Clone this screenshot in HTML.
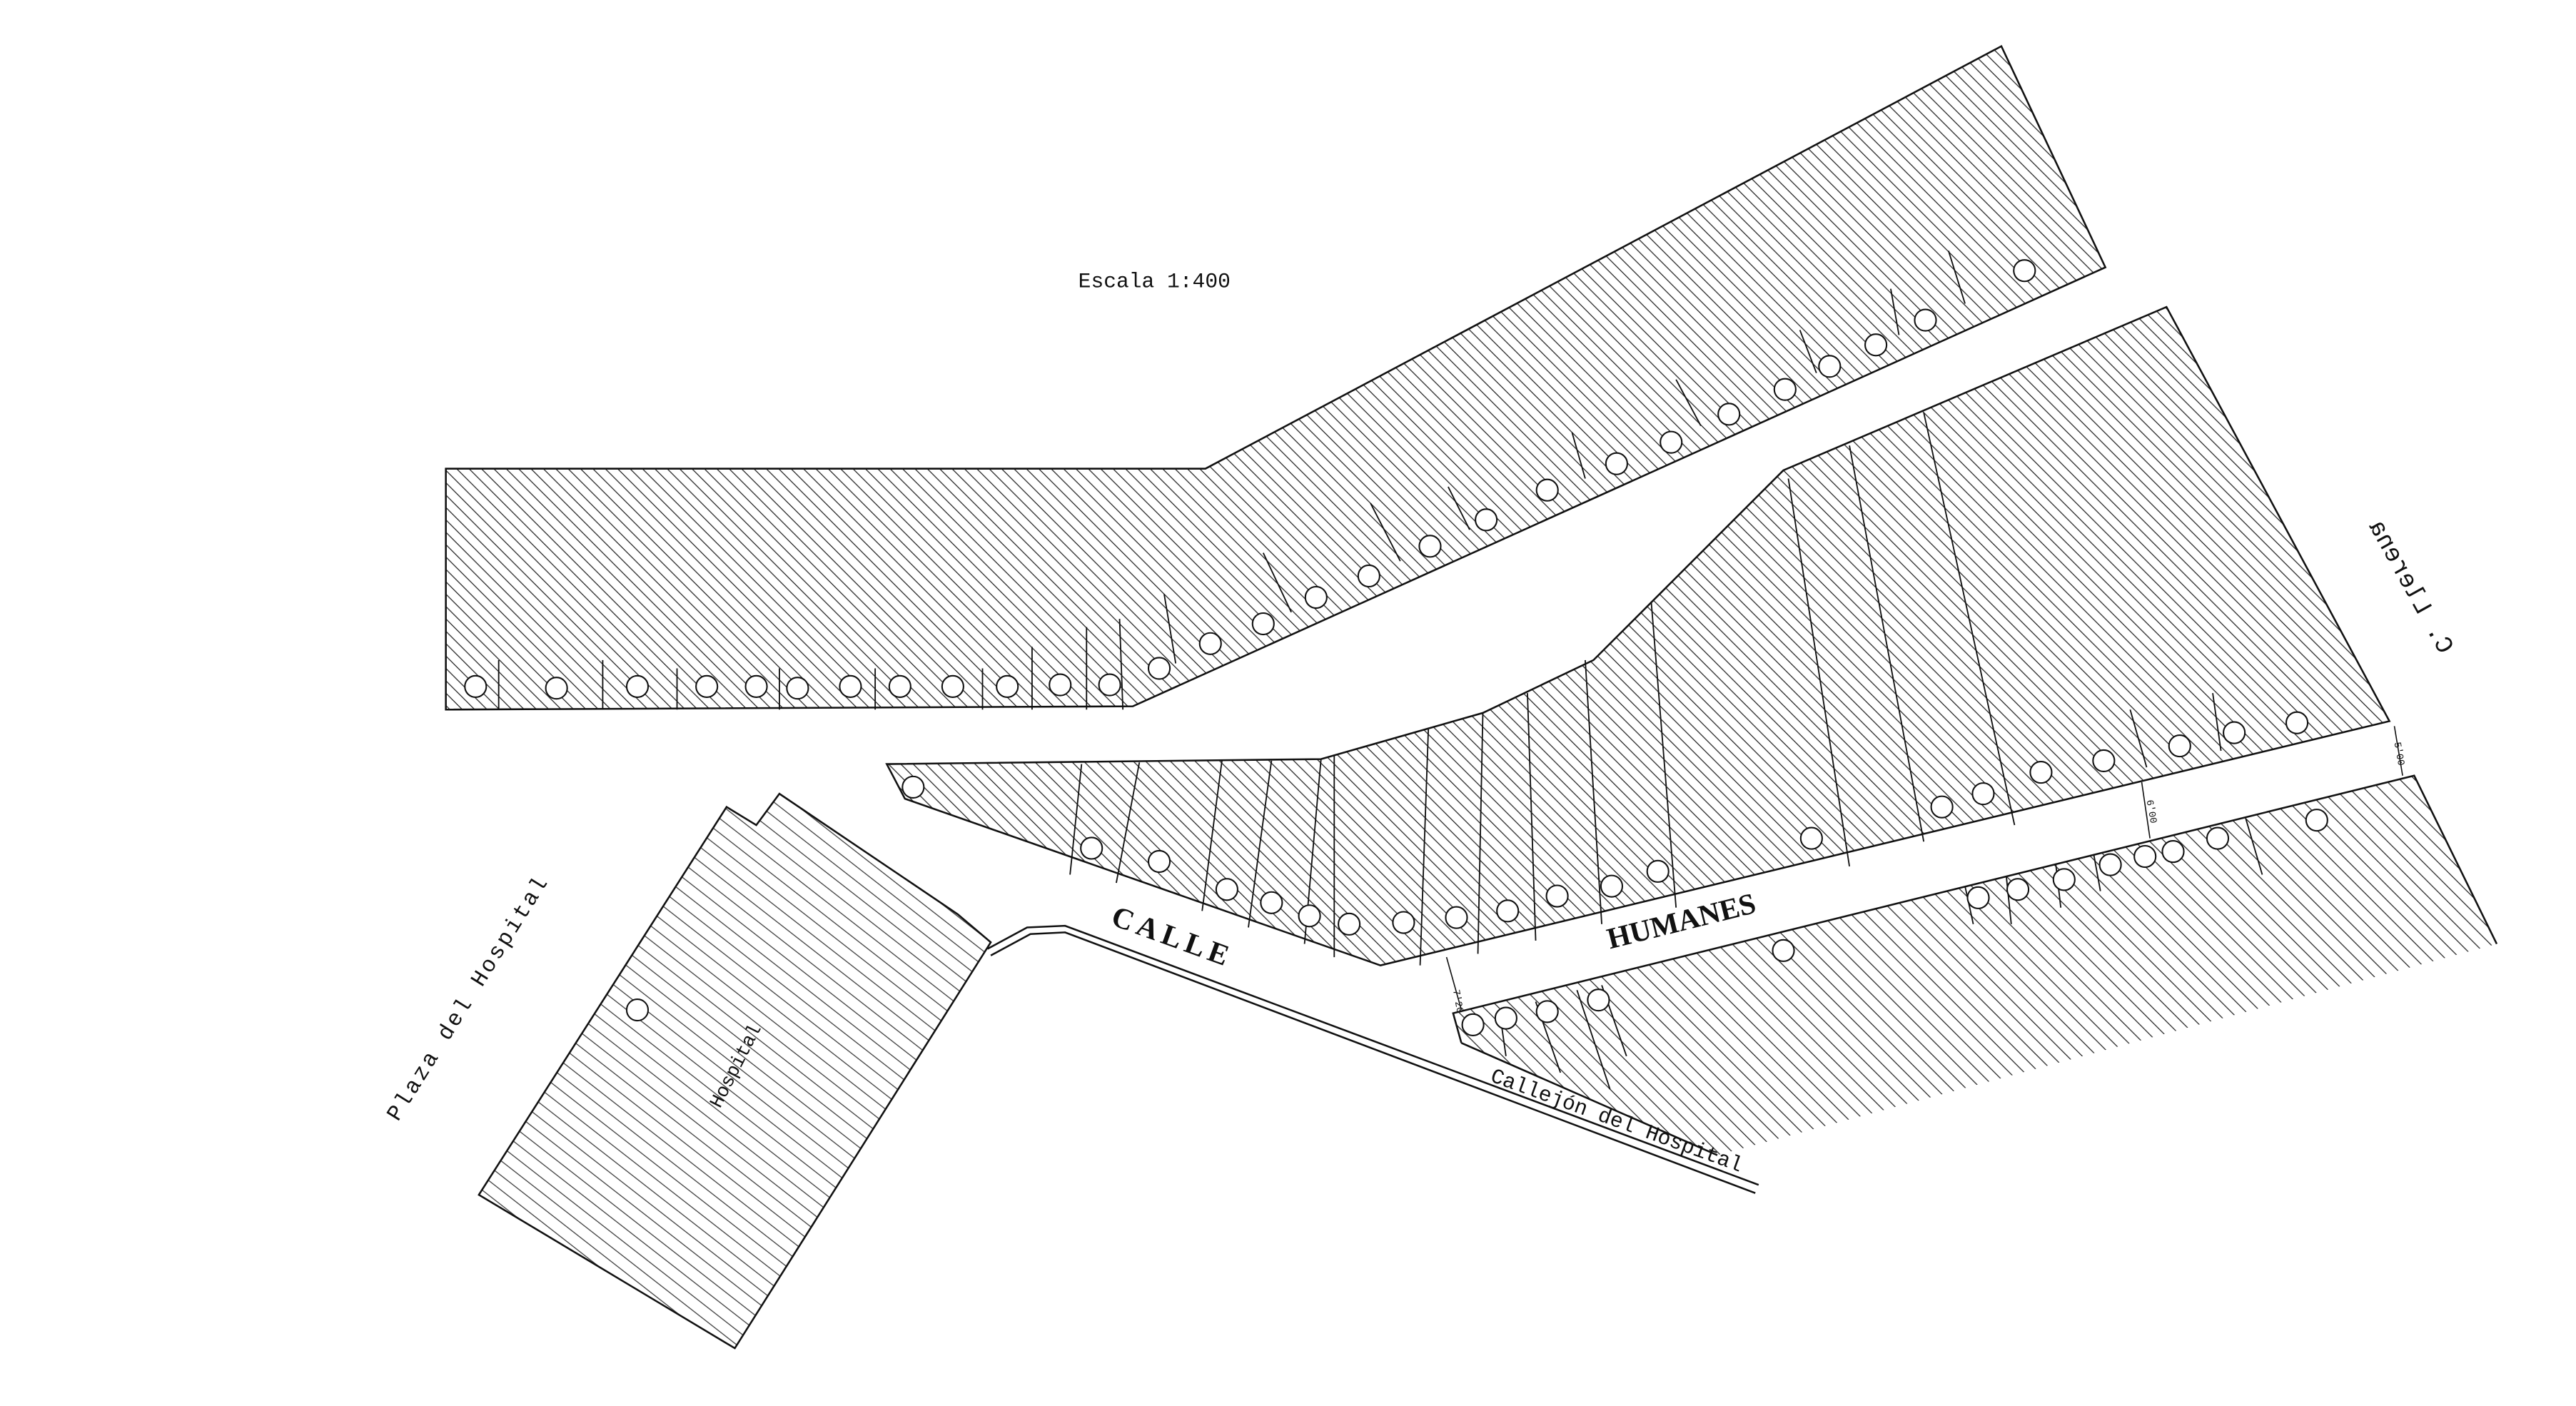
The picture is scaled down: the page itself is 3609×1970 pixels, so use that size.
<!DOCTYPE html>
<html><head><meta charset="utf-8"><style>html,body{margin:0;padding:0;background:#fff}svg{display:block}</style></head>
<body>
<svg width="3609" height="1970" viewBox="0 0 1560 852" preserveAspectRatio="none" xmlns="http://www.w3.org/2000/svg">
<defs>
<pattern id="h" patternUnits="userSpaceOnUse" width="7.5" height="7.5">
<path d="M-2,-2 L9.5,9.5 M-2,5.5 L2,9.5 M5.5,-2 L9.5,2" stroke="#222" stroke-width="0.55"/>
</pattern>
<pattern id="h2" patternUnits="userSpaceOnUse" width="9" height="9">
<path d="M-2,-2 L11,11 M-2,7 L2,11 M7,-2 L11,2" stroke="#222" stroke-width="0.55"/>
</pattern>
<pattern id="hh" patternUnits="userSpaceOnUse" width="9" height="7" patternTransform="rotate(38)">
<path d="M0,3.5 L9,3.5" stroke="#333" stroke-width="0.5"/>
</pattern>
</defs>
<g fill="none" stroke="#111" stroke-width="1.1">
<polygon points="270,284 730,284 1212,28 1275,162 686,428 270,430" fill="url(#h)"/>
<polygon points="537,463 800,460 898,432 965,400 1080,285 1312,186 1447,437 836,585 548,484" fill="url(#h)"/>
<polygon points="880,614 1462,470 1512,572 1040,700 885,632" fill="url(#h2)" stroke-width="0"/>
<polyline points="885,632 880,614 1462,470 1512,572"/>
<line x1="885" y1="632" x2="1040" y2="700"/>
<polygon points="290,724 440,489 458,500 472,481 580,554 600,571 445,817" fill="url(#hh)"/>
<polyline points="598,575 622,562 645,561 1065,718"/>
<polyline points="600,579 624,566 645,565 1063,723"/>
</g>
<g stroke="#111" stroke-width="0.8">
<line x1="302" y1="430" x2="302" y2="400"/><line x1="365" y1="430" x2="365" y2="400"/>
<line x1="410" y1="430" x2="410" y2="405"/><line x1="472" y1="430" x2="472" y2="405"/>
<line x1="530" y1="430" x2="530" y2="405"/><line x1="595" y1="430" x2="595" y2="405"/>
<line x1="625" y1="430" x2="625" y2="392"/><line x1="658" y1="430" x2="658" y2="380"/>
<line x1="680" y1="430" x2="678" y2="375"/><line x1="712" y1="402" x2="705" y2="360"/>
<line x1="782" y1="371" x2="765" y2="335"/><line x1="848" y1="340" x2="830" y2="305"/>
<line x1="890" y1="321" x2="877" y2="295"/><line x1="960" y1="290" x2="952" y2="262"/>
<line x1="1030" y1="258" x2="1015" y2="230"/><line x1="1100" y1="226" x2="1090" y2="200"/>
<line x1="1150" y1="203" x2="1145" y2="175"/><line x1="1190" y1="184" x2="1180" y2="152"/>
<line x1="655" y1="463" x2="648" y2="530"/><line x1="690" y1="462" x2="676" y2="535"/>
<line x1="740" y1="461" x2="728" y2="552"/><line x1="770" y1="461" x2="756" y2="562"/>
<line x1="800" y1="460" x2="790" y2="572"/><line x1="808" y1="458" x2="808" y2="580"/>
<line x1="865" y1="442" x2="860" y2="585"/><line x1="898" y1="432" x2="895" y2="578"/>
<line x1="925" y1="420" x2="930" y2="570"/><line x1="960" y1="400" x2="970" y2="560"/>
<line x1="1000" y1="365" x2="1015" y2="550"/><line x1="1083" y1="290" x2="1120" y2="525"/>
<line x1="1120" y1="270" x2="1165" y2="510"/><line x1="1165" y1="250" x2="1220" y2="500"/>
<line x1="1290" y1="430" x2="1300" y2="465"/><line x1="1340" y1="420" x2="1345" y2="455"/>
<line x1="908" y1="612" x2="912" y2="640"/><line x1="930" y1="607" x2="945" y2="650"/>
<line x1="955" y1="600" x2="975" y2="660"/><line x1="970" y1="597" x2="985" y2="640"/>
<line x1="1190" y1="537" x2="1195" y2="560"/><line x1="1215" y1="531" x2="1218" y2="560"/>
<line x1="1245" y1="524" x2="1248" y2="550"/><line x1="1268" y1="518" x2="1272" y2="540"/>
<line x1="1360" y1="496" x2="1370" y2="530"/>
</g>
<g stroke="#111" stroke-width="0.7">
<line x1="876" y1="580" x2="885" y2="612"/><line x1="1297" y1="474" x2="1302" y2="508"/><line x1="1450" y1="440" x2="1455" y2="470"/>
</g>
<g font-family="Liberation Mono, monospace" font-size="6" fill="#111">
<text x="880" y="600" transform="rotate(80 880 600)">7'20</text>
<text x="1300" y="485" transform="rotate(80 1300 485)">6'00</text>
<text x="1450" y="450" transform="rotate(80 1450 450)">5'00</text>
</g>
<g fill="#fff" stroke="#111" stroke-width="0.9">
<circle cx="288" cy="416" r="6.5"/><circle cx="337" cy="417" r="6.5"/><circle cx="386" cy="416" r="6.5"/><circle cx="428" cy="416" r="6.5"/><circle cx="458" cy="416" r="6.5"/><circle cx="483" cy="417" r="6.5"/><circle cx="515" cy="416" r="6.5"/><circle cx="545" cy="416" r="6.5"/><circle cx="577" cy="416" r="6.5"/><circle cx="610" cy="416" r="6.5"/><circle cx="642" cy="415" r="6.5"/><circle cx="672" cy="415" r="6.5"/>
<circle cx="702" cy="405" r="6.5"/><circle cx="733" cy="390" r="6.5"/><circle cx="765" cy="378" r="6.5"/><circle cx="797" cy="362" r="6.5"/><circle cx="829" cy="349" r="6.5"/><circle cx="866" cy="331" r="6.5"/><circle cx="900" cy="315" r="6.5"/><circle cx="937" cy="297" r="6.5"/><circle cx="979" cy="281" r="6.5"/><circle cx="1012" cy="268" r="6.5"/><circle cx="1047" cy="251" r="6.5"/><circle cx="1081" cy="236" r="6.5"/><circle cx="1108" cy="222" r="6.5"/><circle cx="1136" cy="209" r="6.5"/><circle cx="1166" cy="194" r="6.5"/><circle cx="1226" cy="164" r="6.5"/>
<circle cx="553" cy="477" r="6.5"/><circle cx="661" cy="514" r="6.5"/><circle cx="702" cy="522" r="6.5"/><circle cx="743" cy="539" r="6.5"/><circle cx="770" cy="547" r="6.5"/><circle cx="793" cy="555" r="6.5"/><circle cx="817" cy="560" r="6.5"/><circle cx="850" cy="559" r="6.5"/><circle cx="882" cy="556" r="6.5"/><circle cx="913" cy="552" r="6.5"/><circle cx="943" cy="543" r="6.5"/><circle cx="976" cy="537" r="6.5"/><circle cx="1004" cy="528" r="6.5"/><circle cx="1097" cy="508" r="6.5"/><circle cx="1176" cy="489" r="6.5"/><circle cx="1201" cy="481" r="6.5"/><circle cx="1236" cy="468" r="6.5"/><circle cx="1274" cy="461" r="6.5"/><circle cx="1320" cy="452" r="6.5"/><circle cx="1353" cy="444" r="6.5"/><circle cx="1391" cy="438" r="6.5"/>
<circle cx="892" cy="621" r="6.5"/><circle cx="912" cy="617" r="6.5"/><circle cx="937" cy="613" r="6.5"/><circle cx="968" cy="606" r="6.5"/><circle cx="1080" cy="576" r="6.5"/><circle cx="1198" cy="544" r="6.5"/><circle cx="1222" cy="539" r="6.5"/><circle cx="1250" cy="533" r="6.5"/><circle cx="1278" cy="524" r="6.5"/><circle cx="1299" cy="519" r="6.5"/><circle cx="1316" cy="516" r="6.5"/><circle cx="1343" cy="508" r="6.5"/><circle cx="1403" cy="497" r="6.5"/>
<circle cx="386" cy="612" r="6.5"/>
</g>
<g fill="#111">
<text x="653" y="174" font-family="Liberation Mono, monospace" font-size="12.8">Escala 1:400</text>
<text x="672" y="560" font-family="Liberation Serif, serif" font-weight="bold" font-size="18" letter-spacing="3" transform="rotate(20 672 560)">CALLE</text>
<text x="975" y="575" font-family="Liberation Serif, serif" font-weight="bold" font-size="18" transform="rotate(-14 975 575)">HUMANES</text>
<text x="902" y="655" font-family="Liberation Mono, monospace" font-size="12.8" transform="rotate(20 902 655)">Callejón del Hospital</text>
<text x="241" y="680" font-family="Liberation Mono, monospace" font-size="13.5" letter-spacing="1.5" transform="rotate(-58 241 680)">Plaza del Hospital</text>
<text x="436" y="672" font-family="Liberation Mono, monospace" font-size="11.5" transform="rotate(-63 436 672)">Hospital</text>
<text x="0" y="0" font-family="Liberation Mono, monospace" font-size="15" transform="translate(1478 397) rotate(-119) scale(1 -1)">C. Llerena</text>
</g>
</svg>
</body></html>
